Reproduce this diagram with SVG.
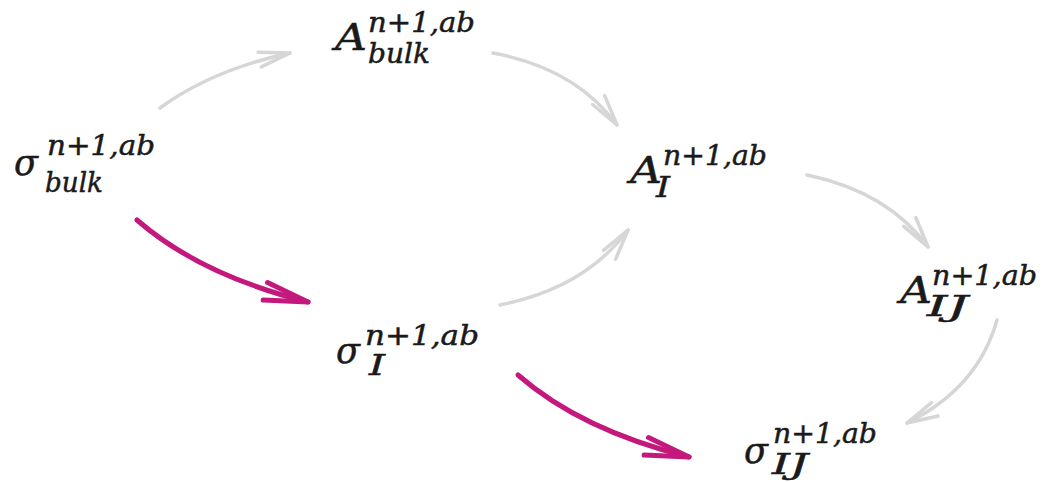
<svg xmlns="http://www.w3.org/2000/svg" width="1042" height="482" viewBox="0 0 1042 482">
<defs>
<style>
.m{font-family:"DejaVu Serif","Liberation Serif",serif;font-style:italic;font-weight:normal;fill:#1a1a1a;stroke:#1a1a1a;stroke-width:0.5}
.b{font-size:38px}
.s{font-size:27px}
.g{fill:none;stroke:#d6d6d6;stroke-width:3.5;stroke-linecap:round}
.p{fill:none;stroke:#c4187d;stroke-width:5;stroke-linecap:round}
</style>
<marker id="ag" markerUnits="userSpaceOnUse" viewBox="-40 -20 50 40" refX="0" refY="0" markerWidth="50" markerHeight="40" orient="auto">
<path d="M-31,-7.5 L0,0 L-31,7.5" fill="none" stroke="#d6d6d6" stroke-width="3.5" stroke-linecap="round" stroke-linejoin="round"/>
</marker>
<marker id="ap" markerUnits="userSpaceOnUse" viewBox="-55 -25 65 50" refX="0" refY="0" markerWidth="65" markerHeight="50" orient="auto">
<path d="M-44,-9 L0,0 L-44,9" fill="none" stroke="#c4187d" stroke-width="5" stroke-linecap="round" stroke-linejoin="round"/>
</marker>
</defs>
<rect width="1042" height="482" fill="#ffffff"/>
<g id="connectors">
<path class="g" d="M160,108 Q212,70 290,53" marker-end="url(#ag)"/>
<path class="g" d="M493,53 Q575,68 617,125" marker-end="url(#ag)"/>
<path class="g" d="M807,175 Q888,192 928,247" marker-end="url(#ag)"/>
<path class="g" d="M997,320 Q978,388 907,423" marker-end="url(#ag)"/>
<path class="g" d="M500,305 Q585,288 628,230" marker-end="url(#ag)"/>
<path class="p" d="M137,220 Q200,275 308,302" marker-end="url(#ap)"/>
<path class="p" d="M518,375 Q581,430 689,457" marker-end="url(#ap)"/>
</g>
<g id="sigma_bulk" class="m">
<text class="b" x="14" y="175" textLength="24" lengthAdjust="spacingAndGlyphs">σ</text>
<text class="s" x="47" y="155" textLength="108" lengthAdjust="spacingAndGlyphs">n+1,ab</text>
<text class="s" x="45" y="192" textLength="58" lengthAdjust="spacingAndGlyphs">bulk</text>
</g>
<g id="A_bulk" class="m">
<text class="b" x="335" y="50" textLength="32" lengthAdjust="spacingAndGlyphs">A</text>
<text class="s" x="368" y="32" textLength="107" lengthAdjust="spacingAndGlyphs">n+1,ab</text>
<text class="s" x="368" y="63" textLength="62" lengthAdjust="spacingAndGlyphs">bulk</text>
</g>
<g id="A_I" class="m">
<text class="b" x="630" y="183" textLength="32" lengthAdjust="spacingAndGlyphs">A</text>
<text class="s" x="663" y="165" textLength="104" lengthAdjust="spacingAndGlyphs">n+1,ab</text>
<text class="s" x="656" y="197" textLength="14" lengthAdjust="spacingAndGlyphs">I</text>
</g>
<g id="A_IJ" class="m">
<text class="b" x="900" y="303" textLength="32" lengthAdjust="spacingAndGlyphs">A</text>
<text class="s" x="932" y="285" textLength="105" lengthAdjust="spacingAndGlyphs">n+1,ab</text>
<text class="s" x="927" y="316" textLength="41" lengthAdjust="spacingAndGlyphs">IJ</text>
</g>
<g id="sigma_I" class="m">
<text class="b" x="336" y="363" textLength="24" lengthAdjust="spacingAndGlyphs">σ</text>
<text class="s" x="365" y="345" textLength="114" lengthAdjust="spacingAndGlyphs">n+1,ab</text>
<text class="s" x="369" y="375" textLength="16" lengthAdjust="spacingAndGlyphs">I</text>
</g>
<g id="sigma_IJ" class="m">
<text class="b" x="744" y="463" textLength="24" lengthAdjust="spacingAndGlyphs">σ</text>
<text class="s" x="773" y="443" textLength="104" lengthAdjust="spacingAndGlyphs">n+1,ab</text>
<text class="s" x="772" y="474" textLength="36" lengthAdjust="spacingAndGlyphs">IJ</text>
</g>
</svg>
